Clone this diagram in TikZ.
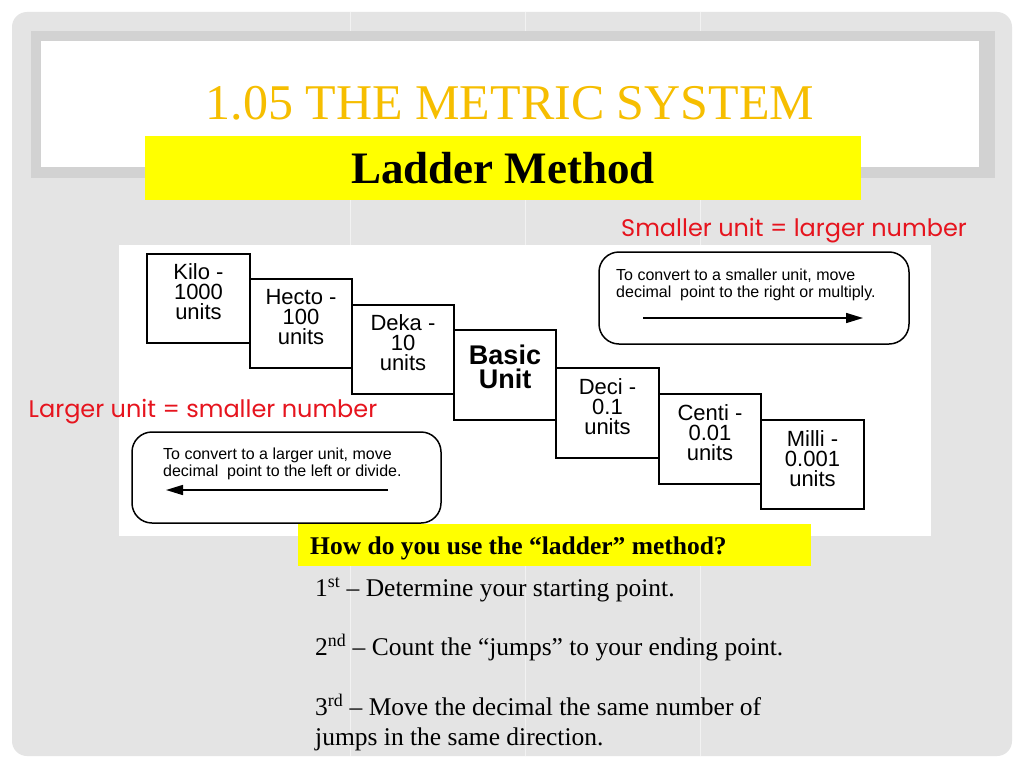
\documentclass[tikz,border=0pt]{standalone}
\usepackage{fontspec}
\setmainfont{Liberation Serif}
\newfontfamily\arialf{Liberation Sans}
\newfontfamily\gothicf{Poppins}
\usetikzlibrary{arrows.meta}
\definecolor{slidegray}{RGB}{228,228,228}
\definecolor{framegray}{RGB}{210,210,210}
\definecolor{linegray}{RGB}{242,242,242}
\definecolor{titlegold}{RGB}{246,190,0}
\definecolor{hiyellow}{RGB}{255,255,0}
\definecolor{redtext}{RGB}{230,20,30}
\tikzset{
  ladderbox/.style={draw=black, line width=1.8pt, fill=white, minimum width=102.5pt, minimum height=89.5pt, inner sep=0pt},
  laddertext/.style={font=\arialf\fontsize{22}{20}\selectfont, align=center, inner sep=0pt},
  basictext/.style={font=\arialf\bfseries\fontsize{27}{24.5}\selectfont, align=center, inner sep=0pt},
  roundbox/.style={draw=black, line width=1.5pt, rounded corners=20pt, inner sep=0pt},
  roundtext/.style={font=\arialf\fontsize{16}{17}\selectfont, align=left, inner sep=0pt, anchor=west},
  convarrow/.style={line width=1.5pt, -{Triangle[length=17pt,width=10pt]}},
  redlabel/.style={font=\gothicf\fontsize{24}{24}\selectfont, text=redtext, inner sep=0pt},
  steptext/.style={font=\fontsize{25.5}{30}\selectfont, anchor=base west, inner sep=0pt, align=left}
}
\begin{document}
\begin{tikzpicture}[x=1pt,y=-1pt]
\useasboundingbox (0,0) rectangle (1024,768);
\fill[white] (0,0) rectangle (1024,768);
\fill[slidegray, rounded corners=15pt] (12,12) rectangle (1012,756);
\foreach \x in {350,525,700} \draw[linegray, line width=1pt] (\x,12) -- (\x,756);
% title frame
\fill[framegray] (31,31) rectangle (995,178);
\fill[white] (41,41) rectangle (979,167);
\node[font=\fontsize{50}{50}\selectfont, text=titlegold, inner sep=0pt] (title) at (510,103) {1.05 THE METRIC SYSTEM};
\node[fill=hiyellow, minimum width=716pt, minimum height=64pt, inner sep=0pt, font=\bfseries\fontsize{45}{45}\selectfont] (ladder) at (503,168) {Ladder Method};
% red labels
\node[redlabel] (smaller) at (794,231) {Smaller unit = larger number};
% diagram area
\fill[white] (119,245) rectangle (931,536);
\node[redlabel] (larger) at (203,412) {Larger unit = smaller number};
% ladder boxes
\node[ladderbox] (kilo) at (198.5,298.5) {};
\node[ladderbox] (hecto) at (301,323.5) {};
\node[ladderbox] (deka) at (403,349.5) {};
\node[ladderbox] (basic) at (505,375) {};
\node[ladderbox] (deci) at (607.5,413) {};
\node[ladderbox] (centi) at (710,439) {};
\node[ladderbox] (milli) at (812.5,464.5) {};
\node[laddertext] (kilot) at ([yshift=6.5pt]kilo.center) {Kilo -\\1000\\units};
\node[laddertext] (hectot) at ([yshift=6pt]hecto.center) {Hecto -\\100\\units};
\node[laddertext] (dekat) at ([yshift=7pt]deka.center) {Deka -\\10\\units};
\node[basictext] (basict) at ([yshift=8pt]basic.center) {Basic\\Unit};
\node[laddertext] (decit) at ([yshift=6pt]deci.center) {Deci -\\0.1\\units};
\node[laddertext] (centit) at ([yshift=6pt]centi.center) {Centi -\\0.01\\units};
\node[laddertext] (millit) at ([yshift=5.5pt]milli.center) {Milli -\\0.001\\units};
% rounded boxes
\node[roundbox, minimum width=310pt, minimum height=92pt] (rbox) at (754,298) {};
\node[roundtext] (rtext) at (616,285) {To convert to a smaller unit, move\\decimal\ \ point to the right or multiply.};
\coordinate (ra) at (643,318);
\coordinate (rb) at (863,318);
\draw[convarrow] (ra) -- (rb);
\node[roundbox, minimum width=309pt, minimum height=91pt] (lbox) at (286.5,477.5) {};
\node[roundtext] (ltext) at (163,464) {To convert to a larger unit, move\\decimal\ \ point to the left or divide.};
\coordinate (la) at (388,490);
\coordinate (lb) at (166,490);
\draw[convarrow] (la) -- (lb);
% question
\node[fill=hiyellow, minimum width=513pt, minimum height=42pt, inner sep=0pt] (qbox) at (554.5,545) {};
\node[font=\bfseries\fontsize{25.5}{25.5}\selectfont, anchor=base west, inner sep=0pt] (qtext) at (310,554.5) {How do you use the “ladder” method?};
\node[steptext] (s1) at (315,596.5) {1\textsuperscript{st} – Determine your starting point.};
\node[steptext] (s2) at (315,655.5) {2\textsuperscript{nd} – Count the “jumps” to your ending point.};
\node[steptext] (s3) at (315,745.5) {3\textsuperscript{rd} – Move the decimal the same number of\\jumps in the same direction.};
\end{tikzpicture}
\end{document}
